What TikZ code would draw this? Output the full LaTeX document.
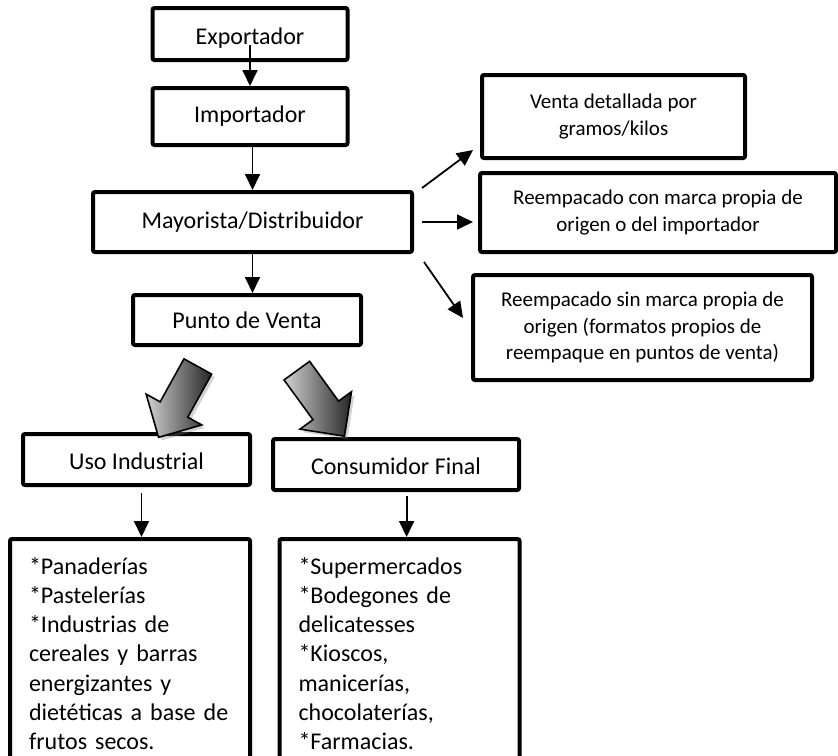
\documentclass[tikz,border=0pt]{standalone}
\usepackage{fontspec}
\setmainfont{Carlito}
\usetikzlibrary{arrows.meta,positioning,calc,shapes.arrows,shadows}
\tikzset{
  >=Stealth,
  every node/.append style={font=\fontsize{12}{14.65}\selectfont},
}
\tikzset{
  box/.style={draw, line width=2pt, rounded corners=1pt, align=center, inner sep=0pt},
  arrow/.style={-{Triangle[length=8pt,width=7.5pt]}, line width=0.9pt}
}

\begin{document}
\begin{tikzpicture}[
  x=0.5pt, y=-0.5pt,
  % --- Styles ---
  sidebox/.style={box, font=\fontsize{10.5}{13.4}\selectfont},
  listbox/.style={box, anchor=north, align=left, text width=101pt,
    inner xsep=9.5pt, inner ysep=9pt},
  lowtext/.style={text height=10pt, text depth=0pt},
  fatarrow/.style={single arrow, draw=black, line width=0.8pt,
    minimum height=40.5pt, inner sep=7.5pt, single arrow head extend=8pt,
    left color=black!18, right color=black!85,
    drop shadow={opacity=0.35, shadow xshift=1.5pt, shadow yshift=-1.5pt}},
]

% --- Page (pixel grid, y downwards) ---
\clip (0,0) rectangle (838,755);

% --- Main chain ---
\node[box, lowtext, minimum width=97.5pt, minimum height=26pt] (expo) at (250,34) {Exportador};
\node[box, minimum width=97.5pt, minimum height=28.5pt] (impo) at (250,116.5) {Importador};
\node[box, minimum width=159.5pt, minimum height=30pt] (mayo) at (252.5,222) {Mayorista/Distribuidor};
\node[box, minimum width=114pt, minimum height=25pt] (punto) at (247,320) {Punto de Venta};

\draw[arrow] ([yshift=-5.5pt]expo.center) -- (impo.north);
\draw[arrow] (mayo.north |- impo.south) -- (mayo.north);
\draw[arrow] (mayo.south) -- (mayo.south |- punto.north);

% --- Repacking options (right) ---
\node[sidebox, minimum width=131.5pt, minimum height=41.5pt] (venta) at (613.5,116.5)
  {Venta detallada por\\gramos/kilos};
\node[sidebox, minimum width=178pt, minimum height=39.5pt] (conmarca) at (658,212.5)
  {Reempacado con marca propia de\\origen o del importador};
\node[sidebox, minimum width=169.5pt, minimum height=52.5pt] (sinmarca) at (642.5,327.5)
  {Reempacado sin marca propia de\\origen (formatos propios de\\reempaque en puntos de venta)};

\draw[arrow] ($(mayo.north east)+(8,-2)$) -- ($(venta.south west)+(-7,-10)$);
\draw[arrow, shorten <=4pt, shorten >=2.5pt] (mayo.east) -- (mayo.east -| conmarca.west);
\draw[arrow] ($(mayo.south east)+(10,8)$) -- ($(sinmarca.west)+(-8,-9.5)$);

% --- Final use ---
\node[box, lowtext, minimum width=113.5pt, minimum height=25.5pt] (uso) at (136.5,459.5) {Uso Industrial};
\node[box, lowtext, minimum width=123pt, minimum height=25.5pt] (consumo) at (396,464.5) {Consumidor Final};

\node[fatarrow, rotate=241] (flechaA) at (182,395) {};
\node[fatarrow, rotate=-54] (flechaB) at (316,397) {};

% --- Outlets ---
\node[listbox] (listaA) at (130,537)
  {*Panaderías\\{}*Pastelerías\\{}*Industrias de\\cereales y barras\\energizantes y\\dietéticas a base de\\frutos secos.};
\node[listbox] (listaB) at (399.5,537)
  {*Supermercados\\{}*Bodegones de\\delicatesses\\{}*Kioscos,\\manicerías,\\chocolaterías,\\{}*Farmacias.};

\draw[arrow, shorten <=3pt] ([xshift=2.5pt]uso.south) -- ([xshift=2.5pt]uso.south |- listaA.north);
\draw[arrow, shorten <=2pt] ([xshift=5.3pt]consumo.south) -- ([xshift=5.3pt]consumo.south |- listaB.north);

\end{tikzpicture}
\end{document}
